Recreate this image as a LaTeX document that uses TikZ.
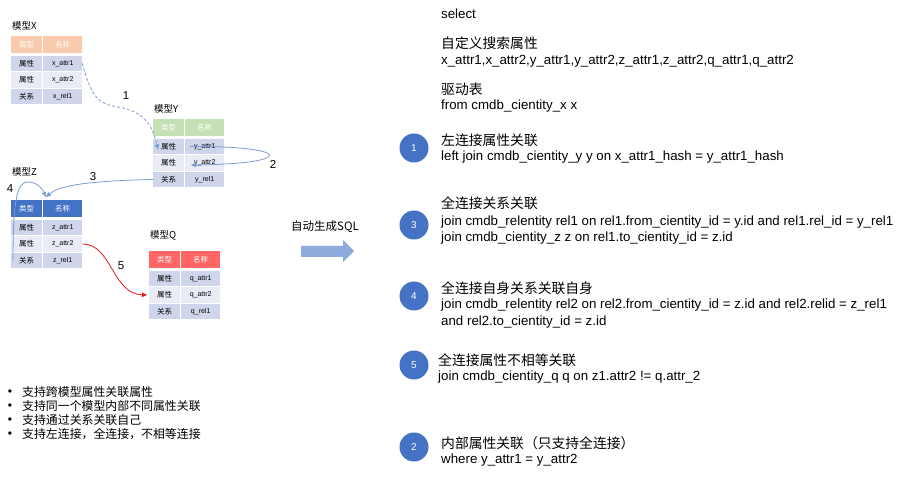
\documentclass[tikz,border=0pt]{standalone}
\usepackage{fontspec}
\setmainfont{Liberation Sans}
\newfontfamily\cjk{Noto Sans CJK SC}
\usetikzlibrary{arrows.meta,calc}

\definecolor{hdrx}{RGB}{248,203,173}
\definecolor{hdry}{RGB}{197,224,180}
\definecolor{hdrz}{RGB}{68,114,196}
\definecolor{hdrq}{RGB}{255,102,102}
\definecolor{rowdark}{RGB}{207,213,234}
\definecolor{rowlight}{RGB}{233,235,245}
\definecolor{lnblue}{RGB}{125,155,212}
\definecolor{lnred}{RGB}{232,22,22}
\definecolor{gen}{RGB}{143,170,220}

\begin{document}
\begin{tikzpicture}[x=1pt, y=-1pt,
    cell/.style={rectangle, inner sep=0pt, anchor=north west, minimum height=15.5pt},
    kindcell/.style={cell, minimum width=31pt, font=\cjk\fontsize{7.5}{9}\selectfont},
    namecell/.style={cell, minimum width=39pt, font=\fontsize{7}{8}\selectfont},
    hdrcell/.style={minimum height=17pt, text=white, font=\cjk\fontsize{7.5}{9}\selectfont},
    link/.style={draw=lnblue, line width=0.8pt, -{Triangle[length=5pt, width=4.5pt]}},
    num/.style={font=\fontsize{11.5}{13}\selectfont},
    sqltext/.style={anchor=west, inner sep=0pt, font=\fontsize{13.3}{15}\selectfont},
    cntext/.style={anchor=west, inner sep=0pt, font=\cjk\fontsize{13.8}{16}\selectfont},
    badge/.style={circle, fill=hdrz, text=white, minimum size=29pt, inner sep=0pt, font=\fontsize{10}{12}\selectfont}]

    \useasboundingbox (0,0) rectangle (916,478);

% model tables

    \foreach \m/\M/\ox/\oy/\ty/\hc in {x/X/0/0/26/hdrx, y/Y/142/83/26/hdry, z/Z/0/164/8/hdrz, q/Q/138/215/20/hdrq} {
        \node[anchor=west, inner sep=0pt, font=\cjk\fontsize{9.5}{11}\selectfont] (\m-t) at (\ox + 12, \oy + \ty) {模型\M};
        \node[kindcell, hdrcell, fill=\hc] (\m-h1) at (\ox + 11, \oy + 36) {类型};
        \node[namecell, hdrcell, fill=\hc] (\m-h2) at (\ox + 43, \oy + 36) {名称};
        \node[kindcell, fill=rowdark] (\m-k1) at (\ox + 11, \oy + 55.5) {属性};
        \node[namecell, fill=rowdark] (\m-n1) at (\ox + 43, \oy + 55.5) {\m\_attr1};
        \node[kindcell, fill=rowlight] (\m-k2) at (\ox + 11, \oy + 72) {属性};
        \node[namecell, fill=rowlight] (\m-n2) at (\ox + 43, \oy + 72) {\m\_attr2};
        \node[kindcell, fill=rowdark] (\m-k3) at (\ox + 11, \oy + 88.5) {关系};
        \node[namecell, fill=rowdark] (\m-n3) at (\ox + 43, \oy + 88.5) {\m\_rel1};
    }

% links between tables

    \coordinate (end1) at ($(y-k1.south west) + (5, -5)$);
    \coordinate (end2) at ($(y-n2.west) + (6, 2)$);
    \coordinate (endz) at ($(z-h2.north west) + (3, -3)$);

    \draw[link, dash pattern=on 3pt off 2pt] (x-n1.east) .. controls (92, 100) and (100, 104) .. (118, 107)
        .. controls (145, 112) and (152, 125) .. (end1);
    \node[num] (l1) at (126, 96) {1};

    \draw[link] ($(y-n1.west) + (5, 0)$) .. controls (295, 146) and (295, 164) .. (end2);
    \node[num] (l2) at (273, 164) {2};

    \draw[link] (y-k3.west) .. controls (90, 181) and (60, 185) .. (endz);
    \node[num] (l3) at (93, 177) {3};

    \draw[link] ($(z-k3.west) + (2, 0)$) .. controls (13, 195) and (18, 182) .. (28, 182)
        .. controls (38, 182) and (43, 190) .. (endz);
    \node[num] (l4) at (10, 189) {4};

    \draw[link, draw=lnred] (z-n2.east) .. controls (112, 244) and (112, 294) .. ($(q-k2.west) + (-2, 0)$);
    \node[num] (l5) at (121, 266) {5};

% generate arrow

    \fill[gen] (301, 246) -- (343, 246) -- (343, 240) -- (354, 251) -- (343, 262) -- (343, 257) -- (301, 257) -- cycle;
    \node[font=\cjk\fontsize{11.5}{13}\selectfont] (genlabel) at (325, 227) {自动生成SQL};

% notes

    \foreach \t [count=\i] in {支持跨模型属性关联属性, 支持同一个模型内部不同属性关联, 支持通过关系关联自己, 支持左连接，全连接，不相等连接} {
        \node[font=\fontsize{12}{14}\selectfont, inner sep=0pt] (d\i) at (10, 378.5 + 14 * \i) {\textbullet};
        \node[anchor=west, inner sep=0pt, font=\cjk\fontsize{11.9}{13}\selectfont] (b\i) at (22, 378 + 14 * \i) {\t};
    }

% generated sql

    \node[sqltext] (sel) at (441, 14) {select};
    \node[cntext] (attrhd) at (441, 43) {自定义搜索属性};
    \node[sqltext] (attrs) at (441, 61) {x\_attr1,x\_attr2,y\_attr1,y\_attr2,z\_attr1,z\_attr2,q\_attr1,q\_attr2};
    \node[cntext] (drvhd) at (441, 89) {驱动表};
    \node[sqltext] (drv) at (441, 106) {from cmdb\_cientity\_x x};

    \node[badge] (c1) at (414, 148) {1};
    \node[cntext] (j1hd) at (441, 140) {左连接属性关联};
    \node[sqltext] (j1) at (441, 157) {left join cmdb\_cientity\_y y on x\_attr1\_hash = y\_attr1\_hash};

    \node[badge] (c3) at (414, 225) {3};
    \node[cntext] (j3hd) at (441, 203) {全连接关系关联};
    \node[sqltext] (j3a) at (441, 222) {join cmdb\_relentity rel1 on rel1.from\_cientity\_id = y.id and rel1.rel\_id = y\_rel1};
    \node[sqltext] (j3b) at (441, 238) {join cmdb\_cientity\_z z on rel1.to\_cientity\_id = z.id};

    \node[badge] (c4) at (414, 296) {4};
    \node[cntext] (j4hd) at (441, 288) {全连接自身关系关联自身};
    \node[sqltext] (j4a) at (441, 305) {join cmdb\_relentity rel2 on rel2.from\_cientity\_id = z.id and rel2.relid = z\_rel1};
    \node[sqltext] (j4b) at (441, 322) {and rel2.to\_cientity\_id = z.id};

    \node[badge] (c5) at (414, 365) {5};
    \node[cntext] (j5hd) at (438, 360) {全连接属性不相等关联};
    \node[sqltext] (j5) at (438, 377) {join cmdb\_cientity\_q q on z1.attr2 != q.attr\_2};

    \node[badge] (c2) at (414, 447) {2};
    \node[cntext] (j2hd) at (441, 443) {内部属性关联（只支持全连接）};
    \node[sqltext] (j2) at (441, 460) {where y\_attr1 = y\_attr2};

\end{tikzpicture}
\end{document}
